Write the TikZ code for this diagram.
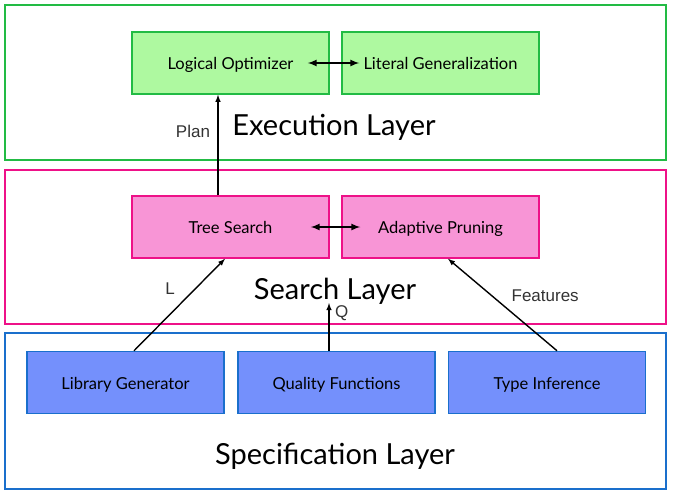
\documentclass[tikz,border=0pt]{standalone}
\usepackage{fontspec}
\setmainfont{Lato}
\newfontfamily\tagfont{Liberation Sans}
\usetikzlibrary{calc}
\usetikzlibrary{scopes}
\definecolor{execline}{HTML}{22BB44}
\definecolor{execfill}{HTML}{AEF9A0}
\definecolor{searchline}{HTML}{EE1188}
\definecolor{searchfill}{HTML}{F895D6}
\definecolor{specline}{HTML}{1A6FCC}
\definecolor{specfill}{HTML}{7490FC}

\begin{document}
\begin{tikzpicture}[x=1pt,y=-1pt,
    layer/.style={rectangle,draw,line width=1.5pt,minimum width=661pt,inner sep=0pt},
    unit/.style={rectangle,draw,line width=1.5pt,minimum width=197pt,minimum height=62pt,
        text height=13pt,text depth=0pt,font=\fontsize{16.5}{18}\selectfont},
    title/.style={anchor=base,font=\fontsize{29}{32}\selectfont},
    flow/.style={>=latex,->,line width=1.4pt},
    both/.style={>=latex,<->,line width=2pt},
    tag/.style={font=\tagfont\fontsize{17}{19}\selectfont,text=black!80},
]
    \useasboundingbox (0,0) rectangle (675,501);

    % Layers
    \node[layer,draw=execline,minimum height=155pt] (exec) at (335.5,82.5) {};
    \node[layer,draw=searchline,minimum height=154pt] (search) at (335.5,247) {};
    \node[layer,draw=specline,minimum height=156pt] (spec) at (335.5,411) {};
    \node[title] (exectitle) at (334,135) {Execution Layer};
    \node[title] (searchtitle) at (335,299) {Search Layer};
    \node[title] (spectitle) at (335,464) {Specification Layer};

    % Execution layer units
    {[every node/.style={unit,draw=execline,fill=execfill}]
        \node (optimizer) at (230.5,63) {Logical Optimizer};
        \node (literal) at (440.5,63) {Literal Generalization};
    }
    % Search layer units
    {[every node/.style={unit,draw=searchline,fill=searchfill}]
        \node (tree) at (230.5,227) {Tree Search};
        \node (pruning) at (440.5,227) {Adaptive Pruning};
    }
    % Specification layer units
    {[every node/.style={unit,draw=specline,fill=specfill}]
        \node (library) at (125.5,382.5) {Library Generator};
        \node (quality) at (336.5,382.5) {Quality Functions};
        \node (types) at (547,382.5) {Type Inference};
    }

    % Connections
    \coordinate (qend) at (329,303);
    \draw[both] ([xshift=-22pt]optimizer.east) -- ([xshift=18pt]literal.west);
    \draw[both] ([xshift=-19pt]tree.east) -- ([xshift=19pt]pruning.west);
    \draw[flow] (tree.north -| 218,0) -- (optimizer.south -| 218,0)
        node[tag,pos=0.64,left=4pt] {Plan};
    \draw[flow] (library.north -| 134,0) -- (tree.south -| 225,0)
        node[tag,pos=0.67,left=16pt] {L};
    \draw[flow] (quality.north -| qend) -- (qend)
        node[tag,right=2pt,yshift=-10pt] {Q};
    \draw[flow] (types.north -| 557,0) -- (pruning.south -| 448,0)
        node[tag,pos=0.6,right=16pt] {Features};
\end{tikzpicture}
\end{document}
